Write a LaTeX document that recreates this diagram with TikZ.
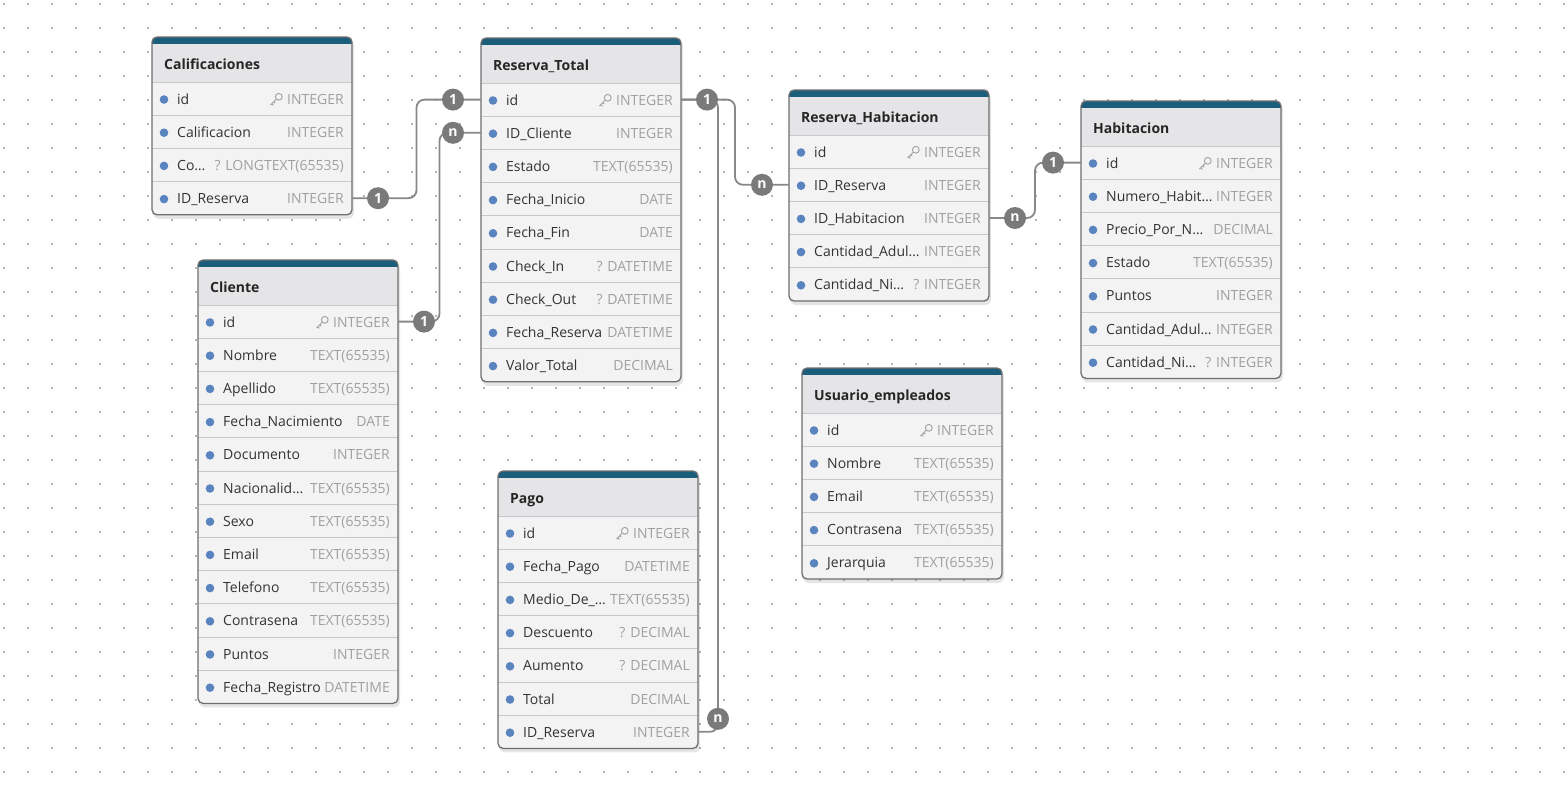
\documentclass[tikz,border=0pt]{standalone}
\usepackage{fontspec}
\setmainfont{Open Sans}
\usetikzlibrary{calc}
\definecolor{barcol}{HTML}{1B5E7B}
\definecolor{hdrbg}{HTML}{E5E5E7}
\definecolor{rowbg}{HTML}{F3F3F3}
\definecolor{sepcol}{HTML}{C8C8CC}
\definecolor{bordcol}{HTML}{6E6E6E}
\definecolor{namecol}{HTML}{333333}
\definecolor{typecol}{HTML}{A0A0A0}
\definecolor{dotcol}{HTML}{5A84C0}
\definecolor{conncol}{HTML}{888888}
\definecolor{cardcol}{HTML}{7A7A7A}
\definecolor{gridcol}{HTML}{B4B4B4}
\tikzset{
  rowbox/.style={minimum width=200pt, minimum height=33.2pt, inner sep=0pt, outer sep=0pt},
  rowname/.style={anchor=west, inner sep=0pt, text height=10pt, text depth=3pt, text=namecol, font=\fontsize{14}{16}\selectfont},
  rowtype/.style={anchor=east, inner sep=0pt, text height=10pt, text depth=3pt, text=typecol, font=\fontsize{14}{16}\selectfont},
  hdr/.style={anchor=west, inner sep=0pt, text height=10pt, text depth=3pt, text=black!85, font=\fontsize{14}{16}\selectfont\bfseries},
  conn/.style={draw=conncol, line width=1.8pt, rounded corners=8pt},
  card/.style={circle, fill=cardcol, text=white, minimum size=22pt, inner sep=0pt, font=\fontsize{14}{14}\selectfont\bfseries},
}
\newcommand\keyicon[1]{%
  \begin{scope}[shift={(#1)}]
    \draw[typecol, line width=0.9pt] (2.8,-2.8) circle (3.4pt);
    \draw[typecol, line width=0.9pt] (0.4,-0.4) -- (-5.5,5.5) (-4.2,4.2) -- (-2.6,5.8) (-2.2,2.2) -- (-0.8,3.6);
  \end{scope}}
\newcommand\dbtable[6]{%
  \pgfmathsetmacro\tbot{#3+45+33.2*#4}%
  \fill[black, opacity=0.10, rounded corners=6pt] (#2+1,#3+3) rectangle (#2+202,\tbot+4);
  \fill[rowbg, rounded corners=5pt] (#2,#3) rectangle (#2+200,\tbot);
  \begin{scope}
    \clip[rounded corners=5pt] (#2,#3) rectangle (#2+200,\tbot);
    \fill[hdrbg] (#2,#3) rectangle (#2+200,#3+45);
    \fill[barcol] (#2,#3) rectangle (#2+200,#3+7);
  \end{scope}
  \node[hdr] (#1-h) at (#2+12,#3+29) {#5};
  \foreach \nm/\ty/\k [count=\i] in {#6} {
    \pgfmathsetmacro\yy{#3+45+33.2*(\i-1)}
    \draw[sepcol, line width=1pt] (#2,\yy) -- (#2+200,\yy);
    \node[rowbox] (#1-\i) at (#2+100,\yy+16.6) {};
    \fill[dotcol] (#2+12,\yy+17.5) circle (4.3pt);
    \node[rowname] (#1-n\i) at (#2+25,\yy+18.6) {\nm};
    \node[rowtype] (#1-t\i) at (#2+192,\yy+18.6) {\ty};
    \ifnum\k=1 \keyicon{$(#1-t\i.west)+(-11,-1)$}\fi
  }
  \draw[bordcol, line width=1.3pt, rounded corners=5pt] (#2,#3) rectangle (#2+200,\tbot);
}
\begin{document}
\begin{tikzpicture}[x=1pt,y=-1pt]
\useasboundingbox (0,0) rectangle (1568,795);
\fill[white] (0,0) rectangle (1568,795);
\foreach \gx in {4,28,...,1564} \foreach \gy in {4,28,...,772} \fill[gridcol] (\gx-1,\gy-1) rectangle (\gx+1,\gy+1);

\dbtable{cal}{152}{37}{4}{Calificaciones}{id/INTEGER/1, Calificacion/INTEGER/0, Co…/? LONGTEXT(65535)/0, ID\_Reserva/INTEGER/0}
\dbtable{rt}{481}{38}{9}{Reserva\_Total}{id/INTEGER/1, ID\_Cliente/INTEGER/0, Estado/TEXT(65535)/0, Fecha\_Inicio/DATE/0, Fecha\_Fin/DATE/0, Check\_In/? DATETIME/0, Check\_Out/? DATETIME/0, Fecha\_Reserva/DATETIME/0, Valor\_Total/DECIMAL/0}
\dbtable{rh}{789}{90}{5}{Reserva\_Habitacion}{id/INTEGER/1, ID\_Reserva/INTEGER/0, ID\_Habitacion/INTEGER/0, Cantidad\_Adul…/INTEGER/0, Cantidad\_Ni…/? INTEGER/0}
\dbtable{hab}{1081}{101}{7}{Habitacion}{id/INTEGER/1, Numero\_Habit…/INTEGER/0, Precio\_Por\_N…/DECIMAL/0, Estado/TEXT(65535)/0, Puntos/INTEGER/0, Cantidad\_Adul…/INTEGER/0, Cantidad\_Ni…/? INTEGER/0}
\dbtable{cli}{198}{260}{12}{Cliente}{id/INTEGER/1, Nombre/TEXT(65535)/0, Apellido/TEXT(65535)/0, Fecha\_Nacimiento/DATE/0, Documento/INTEGER/0, Nacionalid…/TEXT(65535)/0, Sexo/TEXT(65535)/0, Email/TEXT(65535)/0, Telefono/TEXT(65535)/0, Contrasena/TEXT(65535)/0, Puntos/INTEGER/0, Fecha\_Registro/DATETIME/0}
\dbtable{pago}{498}{471}{7}{Pago}{id/INTEGER/1, Fecha\_Pago/DATETIME/0, Medio\_De\_…/TEXT(65535)/0, Descuento/? DECIMAL/0, Aumento/? DECIMAL/0, Total/DECIMAL/0, ID\_Reserva/INTEGER/0}
\dbtable{usr}{802}{368}{5}{Usuario\_empleados}{id/INTEGER/1, Nombre/TEXT(65535)/0, Email/TEXT(65535)/0, Contrasena/TEXT(65535)/0, Jerarquia/TEXT(65535)/0}

\draw[conn] (cal-4.east) -| ($(cal-4.east)!.5!(rt-1.west)$) |- (rt-1.west);
\draw[conn] (cli-1.east) -| ($(cli-1.east)!.5!(rt-2.west)$) |- (rt-2.west);
\draw[conn] (rt-1.east) -| ($(rt-1.east)!.5!(rh-2.west)$) |- (rh-2.west);
\draw[conn] (pago-7.east) -| ($(pago-7.east)+(20,-300)$) |- (rt-1.east);
\draw[conn] (rh-3.east) -| ($(rh-3.east)!.5!(hab-1.west)$) |- (hab-1.west);

\node[card] (k1) at ($(cal-4.east)+(26,0)$) {1};
\node[card] (k2) at ($(rt-1.west)+(-28,0)$) {1};
\node[card] (k3) at ($(cli-1.east)+(26,0)$) {1};
\node[card] (k4) at ($(rt-2.west)+(-28,0)$) {n};
\node[card] (k5) at ($(rt-1.east)+(26,0)$) {1};
\node[card] (k6) at ($(rh-2.west)+(-27,0)$) {n};
\node[card] (k7) at ($(pago-7.east)+(20,-13)$) {n};
\node[card] (k8) at ($(rh-3.east)+(26,0)$) {n};
\node[card] (k9) at ($(hab-1.west)+(-28,0)$) {1};
\end{tikzpicture}
\end{document}
